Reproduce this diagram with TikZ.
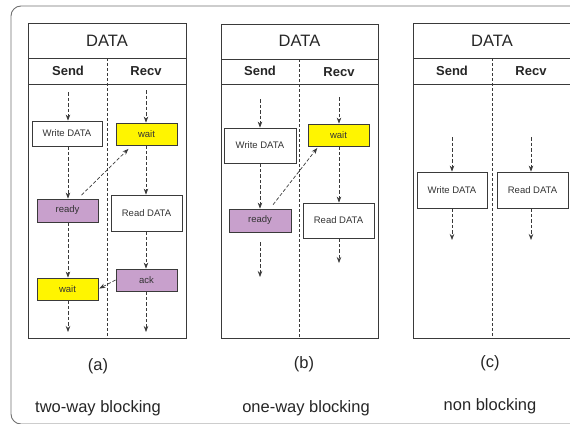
\documentclass[tikz,border=0pt]{standalone}
\usepackage{fontspec}
\setmainfont{Liberation Sans}
\usetikzlibrary{arrows.meta,calc}
\definecolor{waitcol}{HTML}{FFF500}
\definecolor{flagcol}{HTML}{C8A0CC}
\definecolor{linecol}{HTML}{3A3A3A}
\definecolor{framecol}{HTML}{707070}
\tikzset{
  tbl/.style={draw=linecol,line width=0.8pt},
  lane/.style={draw=linecol,line width=0.6pt,dash pattern=on 3pt off 2pt},
  stepbox/.style={draw=linecol,line width=0.8pt,fill=white,inner sep=0pt,
    font=\fontsize{9.5}{11}\selectfont,text=black!80},
  waitbox/.style={stepbox,fill=waitcol},
  flagbox/.style={stepbox,fill=flagcol},
  flow/.style={draw=linecol,line width=0.7pt,dash pattern=on 3.5pt off 2pt,
    -{Stealth[length=6pt,width=4.5pt]}},
  head/.style={font=\fontsize{16.5}{18}\selectfont,text=black!85},
  colhead/.style={font=\bfseries\fontsize{13}{15}\selectfont,text=black!85},
  caption/.style={font=\fontsize{16.5}{18}\selectfont,text=black!85},
}
\begin{document}
\begin{tikzpicture}[x=1pt,y=-1pt]
\useasboundingbox (0,0) rectangle (570,423);
\clip (0,0) rectangle (570,423);
% surrounding frame, running off the right and bottom edges
\draw[framecol,line width=0.9pt,rounded corners=10pt] (11,6) rectangle (640,424);

% ---------- (a) two-way blocking ----------
\draw[tbl] (28,23) rectangle (186,338);
\draw[tbl] (28,58) -- (186,58) (28,84) -- (186,84);
\draw[lane] (107,58) -- (107,338);
\node[head] (adata) at (107,40.5) {DATA};
\node[colhead] (asend) at (68,71) {Send};
\node[colhead] (arecv) at (146,71) {Recv};
\node[stepbox,minimum width=70pt,minimum height=25pt] (awrite) at (67,133.5) {Write DATA};
\node[flagbox,minimum width=61pt,minimum height=23pt] (aready) at (67.5,210.5) {ready};
\node[waitbox,minimum width=61pt,minimum height=22pt] (await2) at (67.5,289) {wait};
\node[waitbox,minimum width=61pt,minimum height=22pt] (await) at (146.5,134) {wait};
\node[stepbox,minimum width=71pt,minimum height=36pt] (aread) at (146.5,213) {Read DATA};
\node[flagbox,minimum width=61pt,minimum height=22pt] (aack) at (146.5,280) {ack};
\coordinate (as0) at (68,92);
\coordinate (as1) at (68,332);
\coordinate (ar0) at (146,90);
\coordinate (ar1) at (146,332);
\draw[flow] (as0) -- (awrite.north -| as0);
\draw[flow] (awrite.south -| as0) -- (aready.north -| as0);
\draw[flow] (aready.south -| as0) -- (await2.north -| as0);
\draw[flow] (await2.south -| as1) -- (as1);
\draw[flow] (ar0) -- (await.north -| ar0);
\draw[flow] (await.south -| ar0) -- (aread.north -| ar0);
\draw[flow] (aread.south -| ar0) -- (aack.north -| ar0);
\draw[flow] (aack.south -| ar1) -- (ar1);
\draw[flow,shorten <=5pt,shorten >=5pt] ($(aready.north)+(10.5,0)$) -- ($(await.south)+(-14.5,0)$);
\draw[flow,shorten >=1pt] (aack.west) -- (await2.east);
\node[caption] (alab) at (98,366) {(a)};
\node[caption] (aname) at (98,408) {two-way blocking};

% ---------- (b) one-way blocking ----------
\draw[tbl] (221,24) rectangle (378,338);
\draw[tbl] (221,59) -- (378,59) (221,84) -- (378,84);
\draw[lane] (299,59) -- (299,338);
\node[head] (bdata) at (299.5,41) {DATA};
\node[colhead] (bsend) at (260,71) {Send};
\node[colhead] (brecv) at (339,72) {Recv};
\node[stepbox,minimum width=72pt,minimum height=35pt] (bwrite) at (260,145.5) {Write DATA};
\node[flagbox,minimum width=62pt,minimum height=23pt] (bready) at (260,220.5) {ready};
\node[waitbox,minimum width=61pt,minimum height=22pt] (bwait) at (338.5,135) {wait};
\node[stepbox,minimum width=71pt,minimum height=35pt] (bread) at (338.5,220.5) {Read DATA};
\coordinate (bs0) at (260,99);
\coordinate (bs1) at (260,242);
\coordinate (bs2) at (260,277);
\coordinate (br0) at (339,97);
\coordinate (br1) at (339,263);
\draw[flow] (bs0) -- (bwrite.north -| bs0);
\draw[flow] (bwrite.south -| bs0) -- (bready.north -| bs0);
\draw[flow] (bs1) -- (bs2);
\draw[flow] (br0) -- (bwait.north -| br0);
\draw[flow] (bwait.south -| br0) -- (bread.north -| br0);
\draw[flow] (bread.south -| br1) -- (br1);
\draw[flow,shorten <=5pt,shorten >=2pt] ($(bready.north)+(10,0)$) -- ($(bwait.south)+(-20,0)$);
\node[caption] (blab) at (304,364) {(b)};
\node[caption] (bname) at (306,408) {one-way blocking};

% ---------- (c) non blocking ----------
\draw[tbl] (413,23) rectangle (571,338);
\draw[tbl] (413,58) -- (571,58) (413,84) -- (571,84);
\draw[lane] (492,58) -- (492,338);
\node[head] (cdata) at (492,40.5) {DATA};
\node[colhead] (csend) at (452,71) {Send};
\node[colhead] (crecv) at (531,71) {Recv};
\node[stepbox,minimum width=70pt,minimum height=36pt] (cwrite) at (452,190) {Write DATA};
\node[stepbox,minimum width=71pt,minimum height=36pt] (cread) at (532.5,190) {Read DATA};
\coordinate (cs0) at (452,137);
\coordinate (cs1) at (452,240);
\coordinate (cr0) at (531,137);
\coordinate (cr1) at (531,240);
\draw[flow] (cs0) -- (cwrite.north -| cs0);
\draw[flow] (cwrite.south -| cs1) -- (cs1);
\draw[flow] (cr0) -- (cread.north -| cr0);
\draw[flow] (cread.south -| cr1) -- (cr1);
\node[caption] (clab) at (490,363) {(c)};
\node[caption] (cname) at (490,406) {non blocking};
\end{tikzpicture}
\end{document}
